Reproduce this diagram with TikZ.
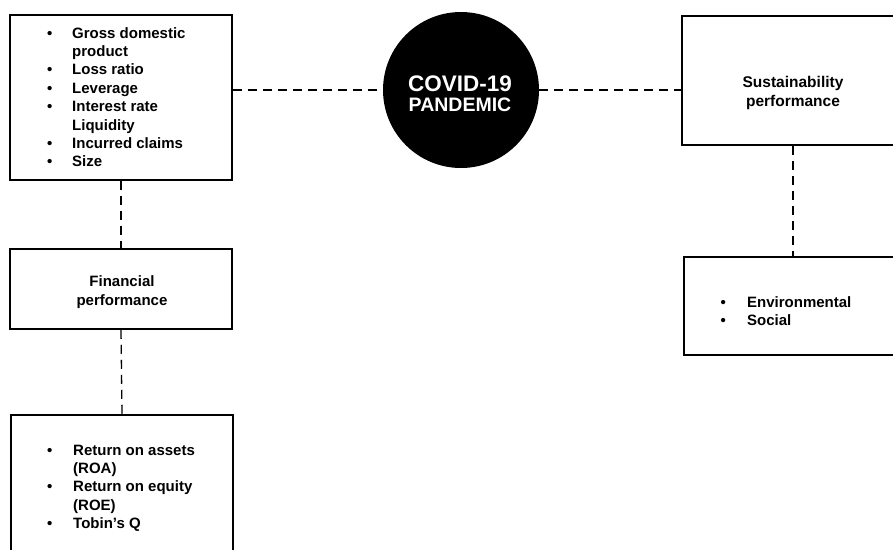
\documentclass[tikz,border=0pt]{standalone}
\usepackage{fontspec}
\setmainfont{Liberation Sans}
\usepackage{array}
\begin{document}
\begin{tikzpicture}[x=1pt,y=-1pt,
  box/.style={draw=black,line width=1.5pt,inner sep=0pt,fill=white},
  conn/.style={line width=1.3pt,dash pattern=on 9pt off 6pt},
  txt/.style={font=\fontsize{15}{18.4}\selectfont\bfseries,inner sep=0pt},
  ctxt/.style={txt,align=center},
  ltxt/.style={txt,anchor=base west}]
\useasboundingbox (0,0) rectangle (893,549);
\fill[white] (0,0) rectangle (893,549);
\clip (0,0) rectangle (893,549);
% boxes
\node[box,minimum width=222pt,minimum height=165pt] (b1) at (121,97.5) {};
\node[box,minimum width=222pt,minimum height=80pt] (b2) at (121,289) {};
\node[box,minimum width=222pt,minimum height=160pt] (b3) at (122,495) {};
\node[box,minimum width=222pt,minimum height=129pt] (b4) at (793,80.5) {};
\node[box,minimum width=220pt,minimum height=98pt] (b5) at (794,306) {};
\node[circle,fill=black,minimum size=156pt,inner sep=0pt] (circ) at (461,90) {};
% connectors
\draw[conn] (b1.east |- circ.west) -- (circ.west);
\draw[conn] (circ.east) -- (b4.west |- circ.east);
\draw[conn] (b1.south) -- (b2.north);
\draw[conn] (b2.south) -- (b3.north);
\draw[conn] (b4.south) -- (b4.south |- b5.north);
% texts
\node[font=\fontsize{22.5}{22.5}\selectfont\bfseries,text=white,inner sep=0pt,anchor=base] (covid) at (460,91) {COVID-19};
\node[font=\fontsize{19.5}{19.5}\selectfont\bfseries,text=white,inner sep=0pt,anchor=base] (pand) at (460,111) {PANDEMIC};
\node[ltxt] (t1) at (47,38) {\begin{tabular}[t]{@{}p{25pt}@{}l@{}}
\textbullet & Gross domestic\\
 & product\\
\textbullet & Loss ratio\\
\textbullet & Leverage\\
\textbullet & Interest rate\\
 & Liquidity\\
\textbullet & Incurred claims\\
\textbullet & Size
\end{tabular}};
\node[ctxt] (t2) at (122,292) {Financial\\performance};
\node[ltxt] (t3) at (47,455) {\begin{tabular}[t]{@{}p{26pt}@{}l@{}}
\textbullet & Return on assets\\
 & (ROA)\\
\textbullet & Return on equity\\
 & (ROE)\\
\textbullet & Tobin’s Q
\end{tabular}};
\node[ctxt,font=\fontsize{15.5}{18.4}\selectfont\bfseries] (t4) at (793,93) {Sustainability\\performance};
\node[ltxt] (t5) at (720.5,307) {\begin{tabular}[t]{@{}p{26.5pt}@{}l@{}}
\textbullet & Environmental\\
\textbullet & Social
\end{tabular}};
\end{tikzpicture}
\end{document}
